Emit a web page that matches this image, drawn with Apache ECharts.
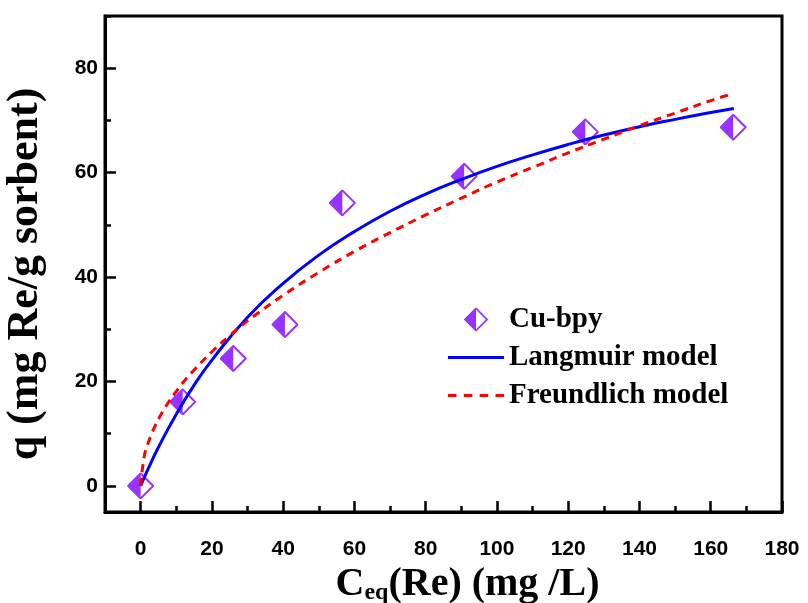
<!DOCTYPE html>
<html>
<head>
<meta charset="utf-8">
<script src="https://cdn.jsdelivr.net/npm/echarts@6/dist/echarts.min.js"></script>
<style>
  html, body { margin: 0; padding: 0; background: #fff; }
  #chart { width: 808px; height: 603px; }
</style>
</head>
<body>
<div id="chart"></div>
<script>
// Measured adsorption data (Cu-bpy): equilibrium concentration vs uptake
const ceqMeasured = [0, 11.8, 26.0, 40.5, 56.6, 90.8, 124.8, 166.3];
const qMeasured   = [0, 16.1, 24.4, 30.9, 54.2, 59.3, 67.8, 68.7];

// Fitted isotherm curves, sampled along the concentration axis
const ceqLangmuir = [0, 2, 5, 10, 15, 20, 30, 40, 50, 60, 70, 80, 90, 100, 110, 120, 130, 140, 150, 160, 166.5];
const qLangmuir   = [0, 3.1, 7.4, 13.7, 19.3, 24.1, 32.3, 38.8, 44.2, 48.7, 52.6, 55.9, 58.7, 61.2, 63.4, 65.4, 67.2, 68.8, 70.2, 71.5, 72.3];

const ceqFreundlich = [0, 1, 2, 3, 4, 6, 8, 10, 12.5, 15, 20, 25, 30, 40, 50, 60, 70, 80, 90, 100, 110, 120, 130, 140, 150, 160, 165.5];
const qFreundlich   = [0, 5.6, 8.0, 9.8, 11.4, 14.0, 16.2, 18.1, 20.3, 22.2, 25.7, 28.8, 31.6, 36.5, 40.9, 44.9, 48.5, 51.9, 55.1, 58.2, 61.0, 63.8, 66.4, 69.0, 71.4, 73.8, 75.0];

// Axis ticks
const xMajorTicks = [0, 20, 40, 60, 80, 100, 120, 140, 160, 180];
const xMinorTicks = [10, 30, 50, 70, 90, 110, 130, 150, 170];
const yMajorTicks = [0, 20, 40, 60, 80];
const yMinorTicks = [10, 30, 50, 70, 90];

const seriesNames = ['Cu-bpy', 'Langmuir model', 'Freundlich model'];

const purple = '#7F00FF';
const blue = '#0000FF';
const red = '#FF0000';
const zip = (xs, ys) => xs.map((x, i) => [x, ys[i]]);

// Half-filled diamond marker
const diamondSvg =
  '<svg xmlns="http://www.w3.org/2000/svg" width="27" height="27" viewBox="0 0 27 27">' +
  '<path d="M13.5 1 L26 13.5 L13.5 26 L1 13.5 Z" fill="#fff"/>' +
  '<path d="M13.5 1 L1 13.5 L13.5 26 Z" fill="' + purple + '"/>' +
  '<path d="M13.5 1 L26 13.5 L13.5 26 L1 13.5 Z" fill="none" stroke="' + purple + '" stroke-width="2"/>' +
  '</svg>';
const diamondIcon = 'image://data:image/svg+xml;charset=utf-8,' + encodeURIComponent(diamondSvg);

// Legend line samples: solid bar and dashed bar
const solidIcon = 'path://M0,0 L56,0 L56,3 L0,3 Z';
const dashedIcon = 'path://M0,0 L8,0 L8,3 L0,3 Z M15,0 L23,0 L23,3 L15,3 Z M30,0 L38,0 L38,3 L30,3 Z M45,0 L53,0 L53,3 L45,3 Z';

const serif = '"Liberation Serif", "Times New Roman", serif';
const sans = '"Liberation Sans", Arial, sans-serif';

const xRange = { min: -10, max: 180 };
const yRange = { min: -5, max: 90 };

const chart = echarts.init(document.getElementById('chart'), null, { renderer: 'canvas' });

chart.setOption({
  animation: false,
  backgroundColor: '#fff',
  grid: {
    left: 105, right: 26, top: 16, bottom: 91,
    containLabel: false, outerBoundsMode: 'none',
    show: true, borderColor: '#000', borderWidth: 3, backgroundColor: 'transparent'
  },
  legend: {
    orient: 'vertical',
    left: 443, top: 300,
    itemWidth: 56, itemHeight: 24, itemGap: 9,
    textStyle: { fontFamily: serif, fontWeight: 'bold', fontSize: 29, color: '#000' },
    data: [
      { name: seriesNames[0], icon: diamondIcon },
      { name: seriesNames[1], icon: solidIcon },
      { name: seriesNames[2], icon: dashedIcon }
    ]
  },
  xAxis: [
    {
      type: 'value', position: 'bottom', ...xRange,
      axisLine: { show: true, onZero: false, lineStyle: { color: '#000', width: 3 } },
      axisTick: { show: true, inside: true, length: 11, lineStyle: { color: '#000', width: 2.5 }, customValues: xMajorTicks },
      axisLabel: { customValues: xMajorTicks, margin: 27, color: '#000', fontFamily: sans, fontWeight: 'bold', fontSize: 21 },
      splitLine: { show: false },
      name: '{c|C}{s|eq}{c|(Re) (mg /L)}',
      nameLocation: 'middle', nameGap: 44,
      nameTextStyle: {
        padding: [0, 0, 0, 48],
        rich: {
          c: { fontFamily: serif, fontWeight: 'bold', fontSize: 40, color: '#000', verticalAlign: 'bottom', lineHeight: 42 },
          s: { fontFamily: serif, fontWeight: 'bold', fontSize: 24, color: '#000', verticalAlign: 'bottom', lineHeight: 31 }
        }
      }
    },
    {
      type: 'value', position: 'bottom', ...xRange,
      axisLine: { show: false, onZero: false },
      axisTick: { show: true, inside: true, length: 6, lineStyle: { color: '#000', width: 2.5 }, customValues: xMinorTicks },
      axisLabel: { show: false },
      splitLine: { show: false }
    }
  ],
  yAxis: [
    {
      type: 'value', position: 'left', ...yRange,
      axisLine: { show: true, onZero: false, lineStyle: { color: '#000', width: 3 } },
      axisTick: { show: true, inside: true, length: 11, lineStyle: { color: '#000', width: 2.5 }, customValues: yMajorTicks },
      axisLabel: { customValues: yMajorTicks, margin: 7, color: '#000', fontFamily: sans, fontWeight: 'bold', fontSize: 21 },
      splitLine: { show: false },
      name: 'q (mg Re/g sorbent)',
      nameLocation: 'middle', nameGap: 57, nameRotate: 90,
      nameTextStyle: { fontFamily: serif, fontWeight: 'bold', fontSize: 44, color: '#000', padding: [0, 20, 0, 0] }
    },
    {
      type: 'value', position: 'left', ...yRange,
      axisLine: { show: false, onZero: false },
      axisTick: { show: true, inside: true, length: 6, lineStyle: { color: '#000', width: 2.5 }, customValues: yMinorTicks },
      axisLabel: { show: false },
      splitLine: { show: false }
    }
  ],
  series: [
    {
      name: seriesNames[0], type: 'scatter',
      xAxisIndex: 0, yAxisIndex: 0,
      symbol: diamondIcon, symbolSize: 27,
      itemStyle: { color: purple },
      data: zip(ceqMeasured, qMeasured),
      z: 2
    },
    {
      name: seriesNames[1], type: 'line',
      xAxisIndex: 0, yAxisIndex: 0,
      showSymbol: false, symbol: 'none', smooth: true,
      lineStyle: { color: blue, width: 3 },
      itemStyle: { color: blue },
      data: zip(ceqLangmuir, qLangmuir),
      z: 3
    },
    {
      name: seriesNames[2], type: 'line',
      xAxisIndex: 0, yAxisIndex: 0,
      showSymbol: false, symbol: 'none', smooth: 0.5,
      lineStyle: { color: red, width: 3, type: [8, 6] },
      itemStyle: { color: red },
      data: zip(ceqFreundlich, qFreundlich),
      z: 4
    }
  ]
});
</script>
</body>
</html>
